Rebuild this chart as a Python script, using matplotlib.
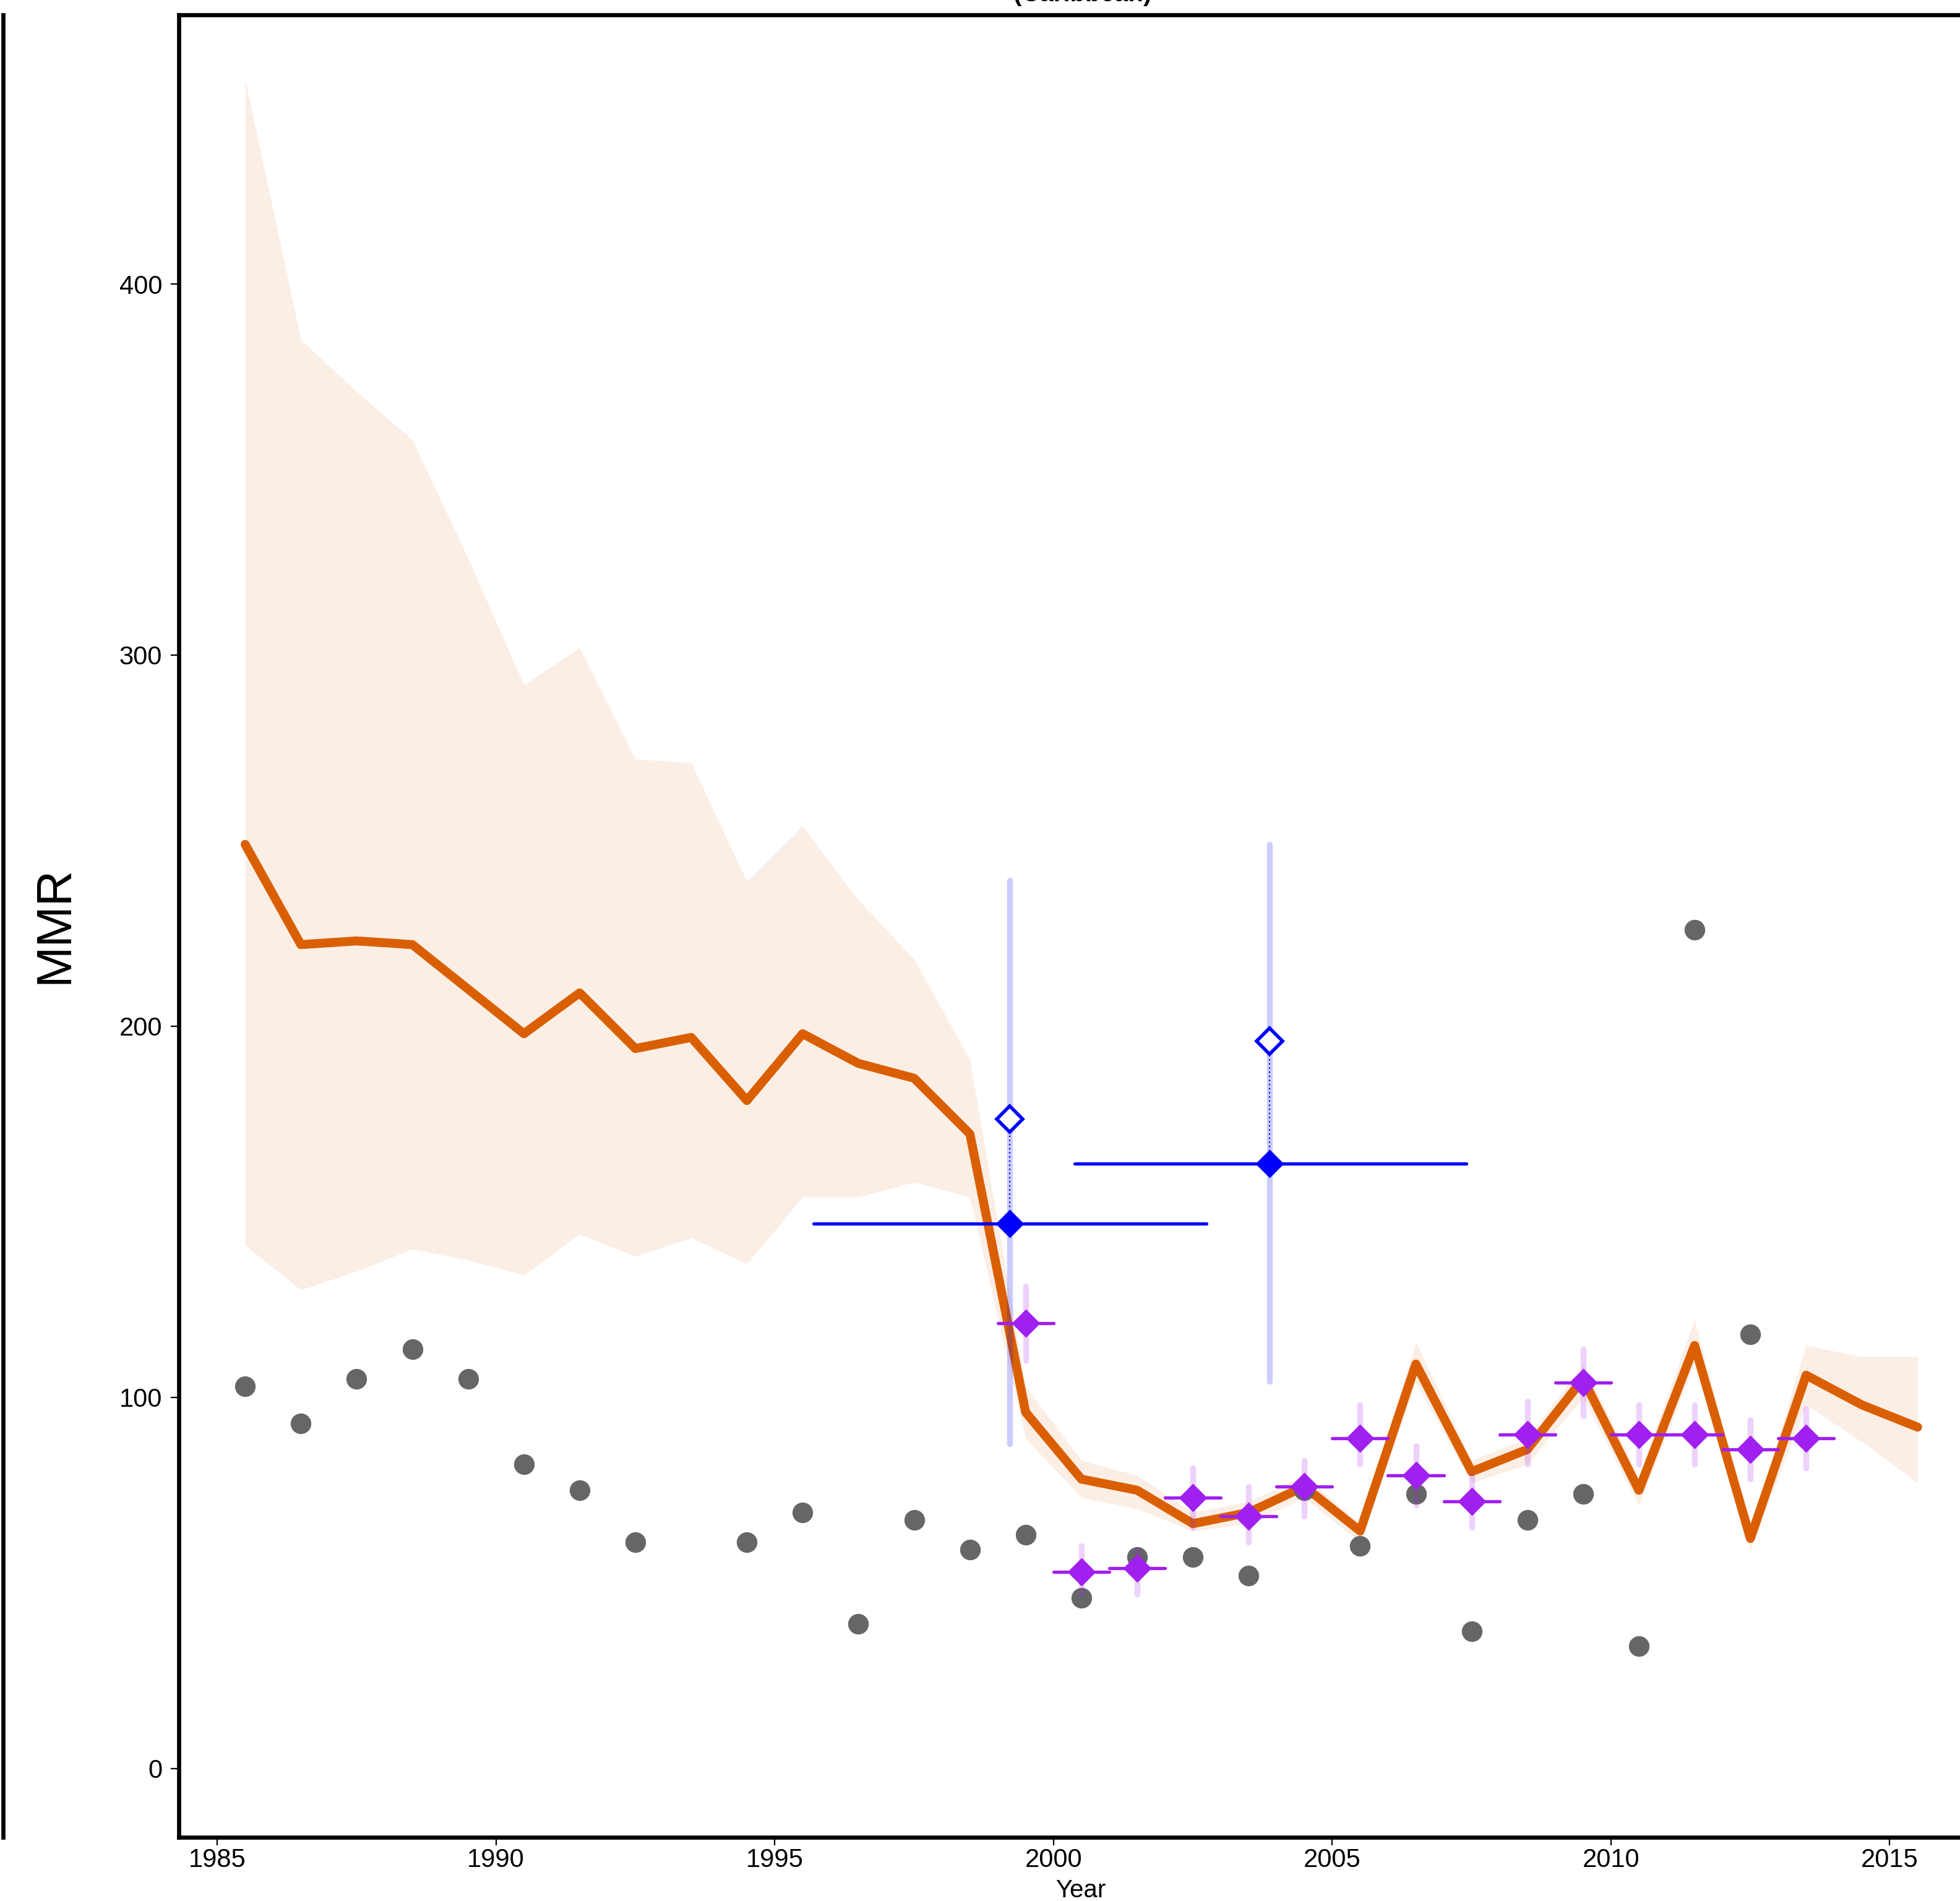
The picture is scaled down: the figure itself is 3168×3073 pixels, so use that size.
import numpy as np
from matplotlib import pyplot as plt
from matplotlib.lines import Line2D

plt.rcParams['font.family'] = ['Liberation Sans', 'DejaVu Sans']

# estimate series (mid-year)
years = np.arange(1985.5, 2016.0, 1.0)
est = [249, 222, 223, 222, 210, 198, 209, 194, 197, 180, 198, 190, 186, 171, 96,
       78, 75, 66, 69, 76, 64, 109, 80, 86, 105, 75, 114, 62, 106, 98, 92]
upper = [455, 385, 371, 358, 326, 292, 302, 272, 271, 239, 254, 234, 218, 191, 103,
         83, 79, 69, 72, 79, 66, 115, 83, 89, 109, 79, 121, 64, 114, 111, 111]
lower = [141, 129, 134, 140, 137, 133, 144, 138, 143, 136, 154, 154, 158, 154, 89,
         73, 70, 64, 66, 73, 61, 104, 77, 82, 100, 71, 109, 59, 98, 88, 77]

# grey observed points
obs_years = [1985.5, 1986.5, 1987.5, 1988.5, 1989.5, 1990.5, 1991.5, 1992.5, 1994.5,
             1995.5, 1996.5, 1997.5, 1998.5, 1999.5, 2000.5, 2001.5, 2002.5, 2003.5,
             2004.5, 2005.5, 2006.5, 2007.5, 2008.5, 2009.5, 2010.5, 2011.5, 2012.5]
obs_vals = [103, 93, 105, 113, 105, 82, 75, 61, 61, 69, 39, 67, 59, 63, 46, 57, 57, 52,
            75, 60, 74, 37, 67, 74, 33, 226, 117]

# purple (VR) points
vr_years = [1999.5, 2000.5, 2001.5, 2002.5, 2003.5, 2004.5, 2005.5, 2006.5, 2007.5,
            2008.5, 2009.5, 2010.5, 2011.5, 2012.5, 2013.5]
vr_vals = [120, 53, 54, 73, 68, 76, 89, 79, 72, 90, 104, 90, 90, 86, 89]
vr_hi = [130, 60, 59, 81, 76, 83, 98, 87, 79, 99, 113, 98, 98, 94, 97]
vr_lo = [110, 47, 47, 65, 61, 68, 82, 71, 65, 82, 95, 82, 82, 78, 81]

# blue (survey) points
sv_years = [1999.21, 2003.88]
sv_vals = [146.8, 163]
sv_raw = [175, 196]
sv_hi = [239.4, 249]
sv_lo = [87.5, 104.4]
sv_start = [1995.7, 2000.38]
sv_end = [2002.74, 2007.4]

orange = '#DA5F02'
purple = '#A020F0'
blue = '#0000FF'

fig = plt.figure(figsize=(15.84, 15.365), dpi=200)
ax = fig.add_axes([289/3168, 1 - 2970/3073, 1 - 289/3168, (2970 - 24)/3073])

ax.fill_between(years, lower, upper, color=orange, alpha=0.1, linewidth=0)
ax.plot(years, est, color=orange, lw=5.2, solid_joinstyle='round', solid_capstyle='round', zorder=3)
ax.plot(obs_years, obs_vals, 'o', color='#666666', ms=12, mec='none', zorder=4)

# purple error bars
for i, x in enumerate(vr_years):
    ax.plot([x, x], [vr_lo[i], vr_hi[i]], color=purple, alpha=0.2, lw=3.4, solid_capstyle='round', zorder=5)
    ax.plot([x - 0.5, x + 0.5], [vr_vals[i]] * 2, color=purple, lw=1.9,
            solid_capstyle='round', zorder=6)
ax.plot(vr_years, vr_vals, 'D', color=purple, ms=11.7, mec='none', zorder=7)

# blue survey points
for i in range(len(sv_years)):
    x = sv_years[i]
    ax.plot([x, x], [sv_lo[i], sv_hi[i]], color=blue, alpha=0.2, lw=3.4, solid_capstyle='round', zorder=5)
    ax.plot([sv_start[i], sv_end[i]], [sv_vals[i]] * 2, color=blue, lw=1.9, solid_capstyle='round', zorder=6)
    ax.plot([x, x], [sv_vals[i], sv_raw[i]], color=blue, lw=0.8, ls=(0, (1, 2)), zorder=6)
ax.plot(sv_years, sv_vals, 'D', color=blue, ms=11.7, mec='none', zorder=8)
ax.plot(sv_years, sv_raw, 'D', mfc='white', mec=blue, mew=2, ms=10.5, zorder=8)

ax.set_xlim(1984.31, 2016.26)
ax.set_ylim(-18.5, 472.5)
ax.set_xticks([1985, 1990, 1995, 2000, 2005, 2010, 2015])
ax.set_yticks([0, 100, 200, 300, 400])
ax.tick_params(labelsize=15, length=4.7, width=0.8)
ax.tick_params(axis='x', pad=1.5)
ax.tick_params(axis='y', pad=5)
ax.spines['right'].set_visible(False)
for s in ['left', 'bottom', 'top']:
    ax.spines[s].set_linewidth(2.4)

fig.text(1747/3168, 1 - 3067/3073, 'Year', ha='center', va='baseline', fontsize=14.5)
fig.text(89/3168, 1 - 1495/3073, 'MMR', ha='center', va='center', rotation=90, fontsize=28.7)
fig.text(1750/3168, 1 - 2/3073, '(Caribbean)', ha='center', va='baseline', fontsize=14.5, fontweight='bold')

# edge of neighbouring panel
fig.add_artist(Line2D([5/3168, 5/3168], [1 - 24/3073, 1 - 2970/3073], color='black', lw=2.4,
                      transform=fig.transFigure))

fig.savefig('out.png', dpi=200)
